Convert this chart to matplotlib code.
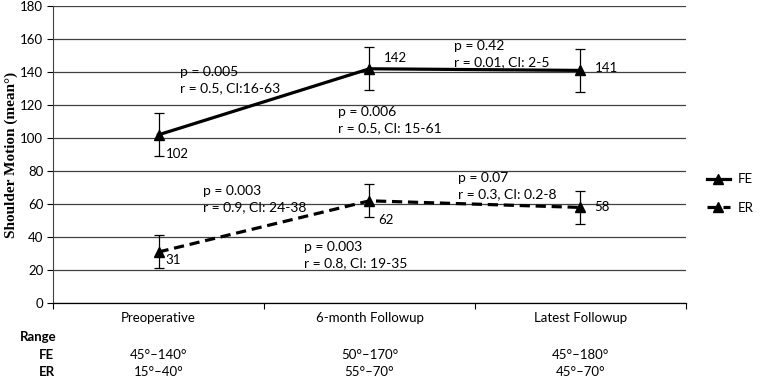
import numpy as np
import matplotlib.pyplot as plt
from matplotlib.lines import Line2D

plt.rcParams['font.family'] = ['Lato', 'DejaVu Sans']

categories = ['Preoperative', '6-month Followup', 'Latest Followup']
fe_mean = [102, 142, 141]
fe_err = [13, 13, 13]
er_mean = [31, 62, 58]
er_err = [10, 10, 10]
fe_range = ['45°–140°', '50°–170°', '45°–180°']
er_range = ['15°–40°', '55°–70°', '45°–70°']

# (x, y, text) in data coordinates
stats = [
    (0.10, 135, 'p = 0.005\nr = 0.5, CI:16-63'),
    (0.85, 111, 'p = 0.006\nr = 0.5, CI: 15-61'),
    (1.40, 151, 'p = 0.42\nr = 0.01, CI: 2-5'),
    (0.21, 63, 'p = 0.003\nr = 0.9, CI: 24-38'),
    (0.69, 29, 'p = 0.003\nr = 0.8, CI: 19-35'),
    (1.42, 71, 'p = 0.07\nr = 0.3, CI: 0.2-8'),
]
fe_label_off = [(5, -14), (10, 8), (10, 2)]
er_label_off = [(5, -6), (6, -14), (10, 0)]

FS = 9.5
dash = (0, (3.2, 1.8))

fig = plt.figure(figsize=(7.65, 3.78), dpi=100)
ax = fig.add_axes([0.0693, 0.198, 0.8274, 0.786])

x = np.arange(len(categories))
ax.errorbar(x, fe_mean, yerr=fe_err, color='black', lw=2.3, marker='^', ms=7,
            ecolor='black', elinewidth=0.9, capsize=3.5, capthick=0.9, zorder=3)
ax.errorbar(x, er_mean, yerr=er_err, color='black', lw=2.3, ls=dash, marker='^', ms=7,
            ecolor='black', elinewidth=0.9, capsize=3.5, capthick=0.9, zorder=3)

for xi, v, off in zip(x, fe_mean, fe_label_off):
    ax.annotate(str(v), (xi, v), textcoords='offset points', xytext=off,
                ha='left', va='center', fontsize=FS)
for xi, v, off in zip(x, er_mean, er_label_off):
    ax.annotate(str(v), (xi, v), textcoords='offset points', xytext=off,
                ha='left', va='center', fontsize=FS)

for sx, sy, txt in stats:
    ax.text(sx, sy, txt, ha='left', va='center', fontsize=FS + 0.5, linespacing=1.4)

ax.set_xlim(-0.5, 2.5)
ax.set_ylim(0, 180)
ax.set_yticks(np.arange(0, 181, 20))
ax.yaxis.grid(True, color='#404040', lw=0.9)
ax.set_axisbelow(True)
ax.set_xticks([-0.5, 0.5, 1.5, 2.5])
ax.set_xticklabels([])
ax.tick_params(axis='x', direction='out', length=4, width=0.8)
ax.tick_params(axis='y', direction='out', length=4, width=0.8, labelsize=FS, pad=3)
for s in ['top', 'right']:
    ax.spines[s].set_visible(False)
ax.spines['left'].set_color('#404040')
ax.spines['bottom'].set_linewidth(0.9)
ax.set_ylabel('Shoulder Motion (mean°)', family='Liberation Serif', fontweight='bold', fontsize=11)
ax.yaxis.set_label_coords(-0.056, 0.5)

# category labels and range table below the axis
for xi, cat, fe_r, er_r in zip(x, categories, fe_range, er_range):
    ax.text(xi, -9, cat, ha='center', va='center', fontsize=FS, clip_on=False)
    fx = ax.transData.transform((xi, 0))[0] / fig.bbox.width
    fig.text(fx, 0.062, fe_r, ha='center', va='center', fontsize=FS)
    fig.text(fx, 0.016, er_r, ha='center', va='center', fontsize=FS)
fig.text(0.026, 0.108, 'Range', ha='left', va='center', fontsize=FS, fontweight='bold')
fig.text(0.051, 0.062, 'FE', ha='left', va='center', fontsize=FS, fontweight='bold')
fig.text(0.051, 0.016, 'ER', ha='left', va='center', fontsize=FS, fontweight='bold')

handles = [Line2D([], [], color='black', lw=2.3, marker='^', ms=7),
           Line2D([], [], color='black', lw=2.3, ls=dash, marker='^', ms=7)]
fig.legend(handles, ['FE', 'ER'], loc='center left', bbox_to_anchor=(0.915, 0.488), frameon=False,
           fontsize=FS, handlelength=1.8, handletextpad=0.6, labelspacing=1.25, borderpad=0)

fig.savefig('out.png', dpi=100)
